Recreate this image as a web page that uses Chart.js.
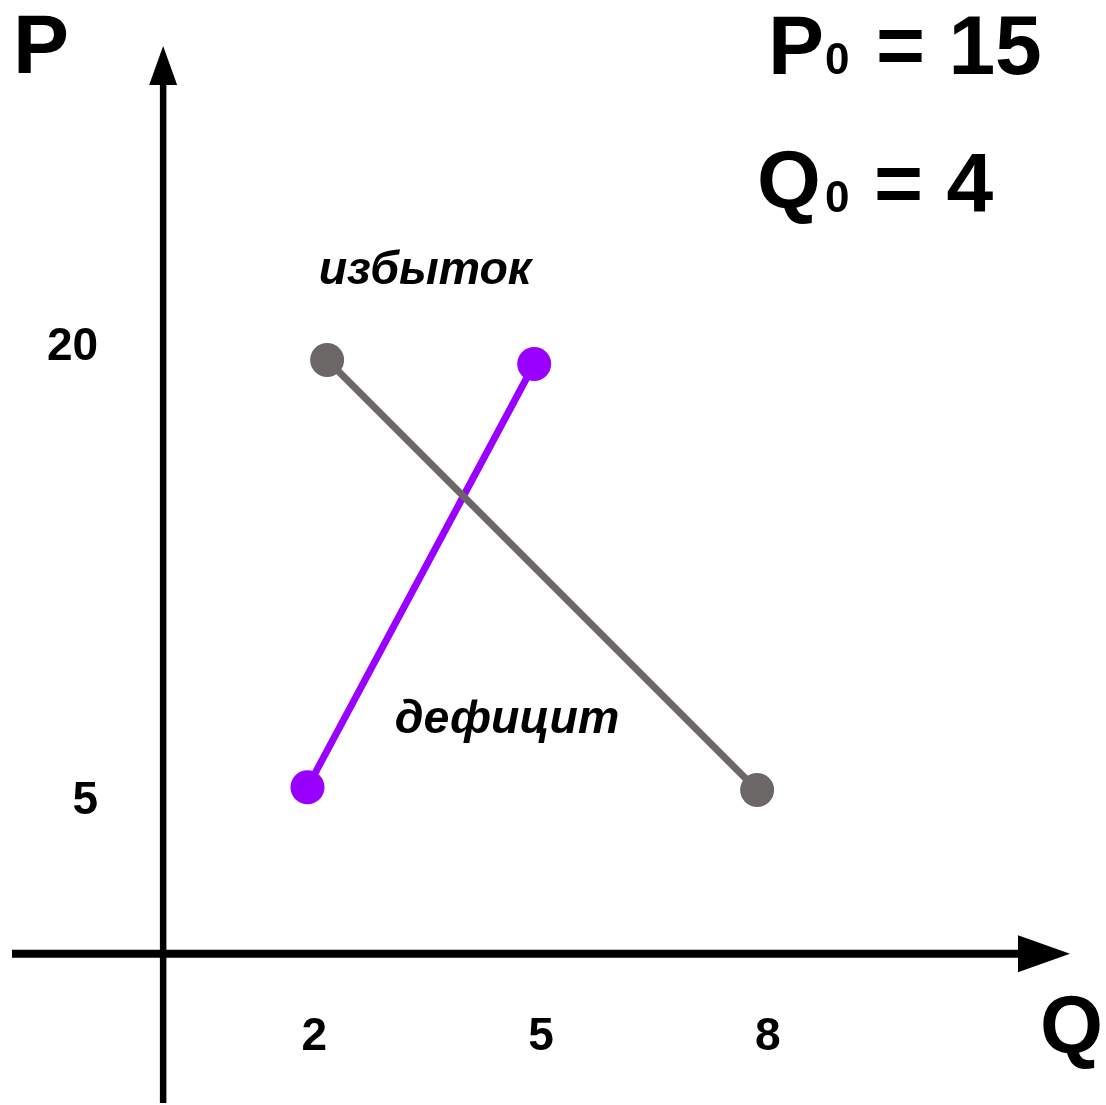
<!DOCTYPE html>
<html>
<head>
<meta charset="utf-8">
<script src="https://cdn.jsdelivr.net/npm/chart.js@4"></script>
<style>
  html, body { margin: 0; padding: 0; background: #ffffff; overflow: hidden; }
  #wrap { position: relative; width: 1106px; height: 1105px; }
  canvas { display: block; }
</style>
</head>
<body>
<div id="wrap"><canvas id="c" width="1106" height="1105"></canvas></div>
<script>
// ---- data ----
const demandQ = [2.17, 7.86];
const demandP = [19.62, 5.41];
const supplyQ = [1.91, 4.91];
const supplyP = [5.50, 19.49];
const xTickValues = [2, 5, 8];
const yTickValues = [5, 20];
const axisNameX = "Q";
const axisNameY = "P";
const labelSurplus = "избыток";
const labelShortage = "дефицит";
const equilibriumP = "15";
const equilibriumQ = "4";

const toPoints = (xs, ys) => xs.map((x, i) => ({ x: x, y: ys[i] }));

const FONT = '"Liberation Sans", Arial, sans-serif';

const overlay = {
  id: 'overlay',
  beforeDatasetsDraw(chart) {
    const ctx = chart.ctx;
    const xs = chart.scales.x, ys = chart.scales.y;
    const ca = chart.chartArea;
    const x0 = xs.getPixelForValue(0);
    const y0 = ys.getPixelForValue(0);
    ctx.save();
    ctx.fillStyle = '#000';
    ctx.strokeStyle = '#000';
    ctx.lineCap = 'butt';
    // vertical axis
    ctx.lineWidth = 6.5;
    ctx.beginPath();
    ctx.moveTo(x0, ca.bottom - 2);
    ctx.lineTo(x0, ca.top + 38);
    ctx.stroke();
    ctx.beginPath();
    ctx.moveTo(x0, ca.top);
    ctx.lineTo(x0 - 14, ca.top + 39);
    ctx.lineTo(x0 + 14, ca.top + 39);
    ctx.closePath();
    ctx.fill();
    // horizontal axis
    ctx.lineWidth = 8;
    ctx.beginPath();
    ctx.moveTo(ca.left, y0);
    ctx.lineTo(ca.right - 50, y0);
    ctx.stroke();
    ctx.beginPath();
    ctx.moveTo(ca.right, y0);
    ctx.lineTo(ca.right - 52, y0 - 18.5);
    ctx.lineTo(ca.right - 52, y0 + 18.5);
    ctx.closePath();
    ctx.fill();

    // tick labels
    ctx.font = 'bold 46px ' + FONT;
    ctx.textBaseline = 'middle';
    ctx.textAlign = 'center';
    xTickValues.forEach(v => {
      ctx.fillText(String(v), xs.getPixelForValue(v), y0 + 84);
    });
    ctx.textAlign = 'right';
    yTickValues.forEach(v => {
      ctx.fillText(String(v), x0 - 65, ys.getPixelForValue(v) - 1);
    });

    // axis names
    ctx.textBaseline = 'alphabetic';
    ctx.textAlign = 'left';
    ctx.font = 'bold 84px ' + FONT;
    ctx.fillText(axisNameY, 13, 73);
    ctx.font = 'bold 81px ' + FONT;
    ctx.fillText(axisNameX, 1040, 1053);

    // equilibrium text
    ctx.font = 'bold 84px ' + FONT;
    ctx.fillText('P', 768, 74);
    ctx.font = 'bold 44px ' + FONT;
    ctx.fillText('0', 825, 74);
    ctx.font = 'bold 84px ' + FONT;
    ctx.fillText('= ' + equilibriumP, 876, 74);

    ctx.font = 'bold 82px ' + FONT;
    ctx.fillText('Q', 757, 208);
    ctx.font = 'bold 44px ' + FONT;
    ctx.fillText('0', 825, 212);
    ctx.font = 'bold 84px ' + FONT;
    ctx.fillText('= ' + equilibriumQ, 874, 212);

    // area labels
    ctx.font = 'italic bold 46.5px ' + FONT;
    ctx.textAlign = 'center';
    ctx.fillText(labelSurplus, 425, 284);
    ctx.fillText(labelShortage, 507, 733);
    ctx.restore();
  }
};

new Chart(document.getElementById('c'), {
  type: 'scatter',
  data: {
    datasets: [
      {
        label: 'demand',
        data: toPoints(demandQ, demandP),
        showLine: true,
        borderColor: '#6b6767',
        backgroundColor: '#6b6767',
        borderWidth: 7,
        pointRadius: 17,
        pointHoverRadius: 17,
        pointBorderWidth: 0
      },
      {
        label: 'supply',
        data: toPoints(supplyQ, supplyP),
        showLine: true,
        borderColor: '#9900ff',
        backgroundColor: '#9900ff',
        borderWidth: 7,
        pointRadius: 17,
        pointHoverRadius: 17,
        pointBorderWidth: 0
      }
    ]
  },
  options: {
    responsive: false,
    animation: false,
    events: [],
    layout: { autoPadding: false, padding: { left: 12, right: 36, top: 46, bottom: 0 } },
    plugins: { legend: { display: false }, tooltip: { enabled: false } },
    scales: {
      x: { type: 'linear', min: -2, max: 12, display: false },
      y: { type: 'linear', min: -5, max: 30, display: false }
    }
  },
  plugins: [overlay]
});
</script>
</body>
</html>
